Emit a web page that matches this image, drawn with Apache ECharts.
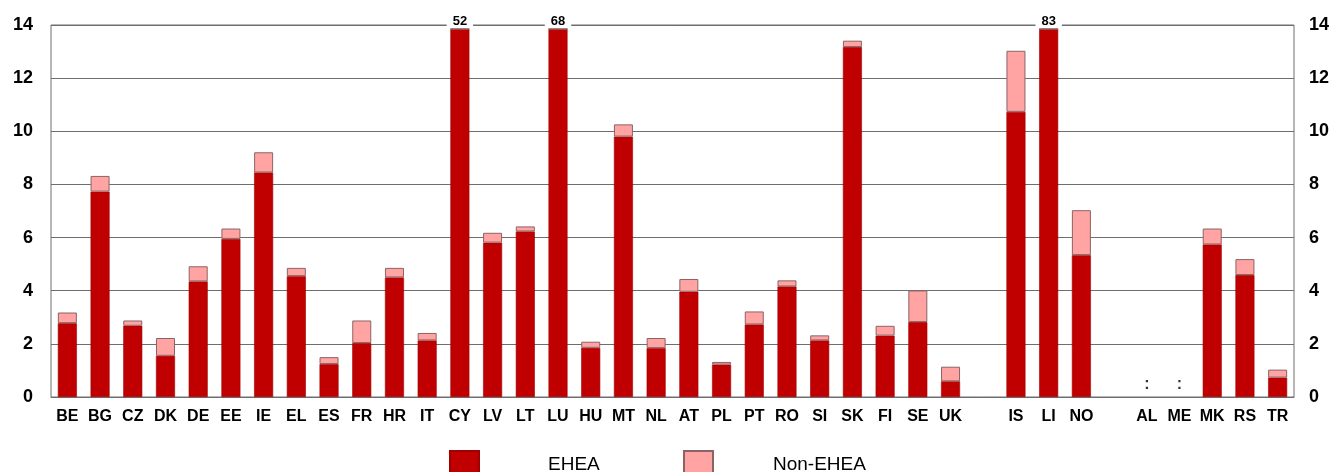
<!DOCTYPE html>
<html lang="en">
<head>
    <meta charset="UTF-8">
    <title>EHEA / Non-EHEA</title>
    <script src="https://cdn.jsdelivr.net/npm/echarts@6/dist/echarts.min.js"></script>
    <style>
        body { margin: 0; background: #fff; }
        #chart { width: 1333px; height: 472px; }
    </style>
</head>
<body>
<div id="chart"></div>
<script>
    // '' = empty slot between country groups
    var countries = ['BE','BG','CZ','DK','DE','EE','IE','EL','ES','FR','HR','IT','CY','LV','LT','LU','HU','MT','NL','AT','PL','PT','RO','SI','SK','FI','SE','UK','','IS','LI','NO','','AL','ME','MK','RS','TR'];
    var ehea = [2.78,7.73,2.68,1.55,4.35,5.95,8.45,4.55,1.24,2.03,4.50,2.13,52,5.81,6.23,68,1.85,9.80,1.84,3.96,1.22,2.73,4.16,2.13,13.17,2.31,2.82,0.59,null,10.73,83,5.34,null,null,null,5.74,4.59,0.73];
    var nonEhea = [0.40,0.59,0.20,0.67,0.57,0.39,0.76,0.31,0.26,0.85,0.36,0.28,0,0.37,0.19,0,0.23,0.46,0.38,0.48,0.10,0.49,0.23,0.19,0.24,0.37,1.19,0.55,null,2.30,0,1.69,null,null,null,0.60,0.60,0.30];
    var missing = ['AL', 'ME'];   // shown as ':'
    var yTicks = [0, 2, 4, 6, 8, 10, 12, 14];

    var yMax = 14;
    var capAt = 13.85;  // bars above the axis are cut and labelled

    var font = "'Liberation Sans Narrow', 'Liberation Sans', Arial, sans-serif";

    var eheaData = ehea.map(function (v) {
        if (v === null) return null;
        if (v > yMax) {
            return {
                value: capAt,
                label: {
                    show: true, position: 'top', distance: 1,
                    formatter: String(v),
                    fontFamily: font, fontWeight: 'bold', fontSize: 13, color: '#000',
                    backgroundColor: '#fff', padding: [1, 6, 0, 6]
                }
            };
        }
        return v;
    });

    var colonData = countries.map(function (c) {
        return missing.indexOf(c) >= 0 ? 0.45 : null;
    });

    function legendAt(name, left, gap) {
        return {
            data: [name],
            left: left, top: 445,
            itemWidth: 29, itemHeight: 28,
            icon: 'rect',
            textStyle: {
                fontFamily: "'Liberation Sans', Arial, sans-serif",
                fontSize: 19, color: '#000',
                padding: [0, 0, 0, gap]
            }
        };
    }

    var chart = echarts.init(document.getElementById('chart'));
    chart.setOption({
        animation: false,
        grid: {
            left: 51, right: 39, top: 25, bottom: 75,
            show: true, borderColor: '#6e6e6e', borderWidth: 1
        },
        legend: [legendAt('EHEA', 444, 64), legendAt('Non-EHEA', 678, 55)],
        xAxis: {
            type: 'category',
            data: countries,
            axisTick: { show: false },
            axisLine: { lineStyle: { color: '#6e6e6e' } },
            axisLabel: {
                interval: 0, margin: 12,
                fontFamily: font, fontWeight: 'bold', fontSize: 16, color: '#000'
            }
        },
        yAxis: [0, 1].map(function (i) {
            return {
                type: 'value',
                min: yTicks[0], max: yTicks[yTicks.length - 1], interval: 2,
                position: i ? 'right' : 'left',
                axisLine: { show: false },
                axisTick: { show: false },
                splitLine: { show: i === 0, lineStyle: { color: '#6e6e6e', width: 1.2 } },
                axisLabel: {
                    margin: i ? 15 : 18,
                    fontFamily: font, fontWeight: 'bold', fontSize: 18, color: '#000'
                }
            };
        }),
        series: [
            {
                name: 'EHEA', type: 'bar', stack: 'all',
                barWidth: 19,
                itemStyle: { color: '#c00000', borderColor: '#a00000', borderWidth: 0.6 },
                data: eheaData
            },
            {
                name: 'Non-EHEA', type: 'bar', stack: 'all',
                barWidth: 19,
                itemStyle: { color: '#ffa3a3', borderColor: '#8a6464', borderWidth: 1 },
                data: nonEhea
            },
            {
                type: 'scatter', symbolSize: 0, silent: true,
                label: {
                    show: true, position: 'inside', formatter: ':',
                    fontFamily: font, fontWeight: 'bold', fontSize: 16, color: '#000'
                },
                data: colonData
            }
        ]
    });
</script>
</body>
</html>
